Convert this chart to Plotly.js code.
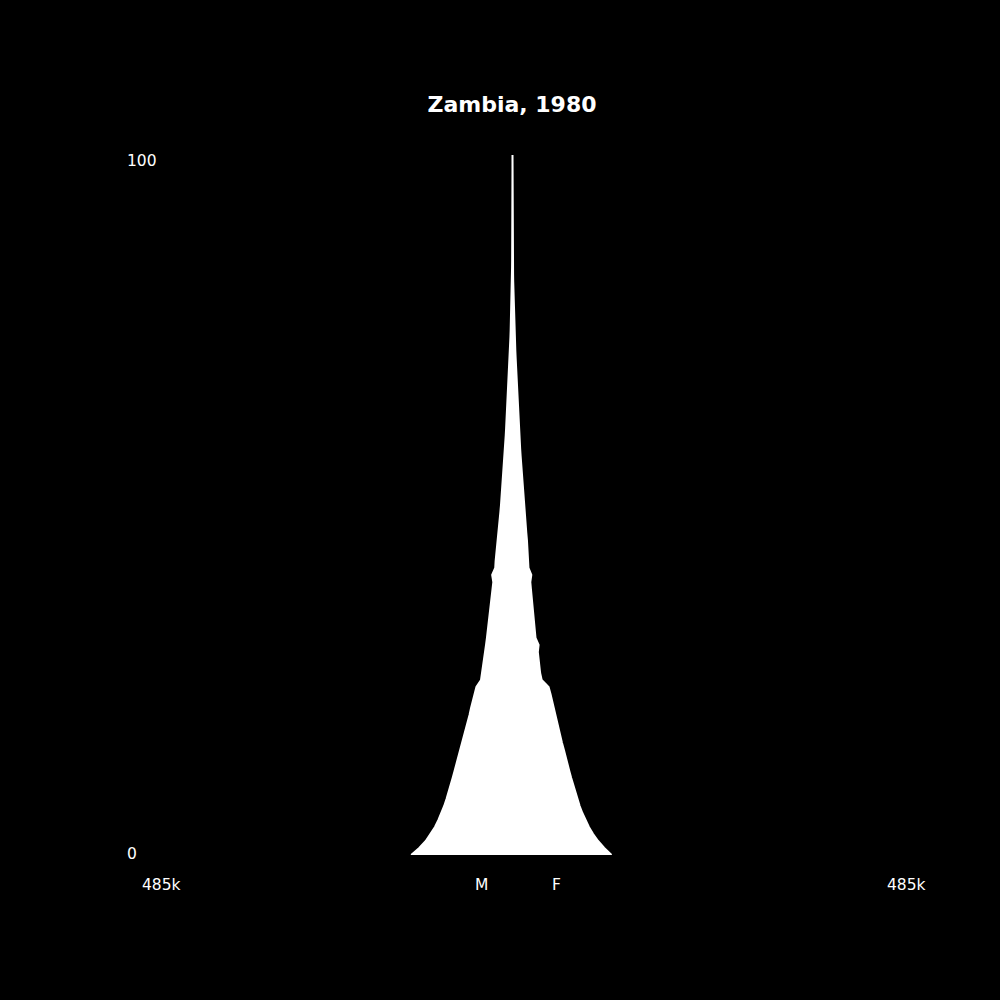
<!DOCTYPE html>
<html>
<head>
<meta charset="utf-8">
<script src="https://cdn.plot.ly/plotly-3.0.1.min.js"></script>
<style>html,body{margin:0;padding:0;background:#000;}</style>
</head>
<body>
<div id="chart" style="width:1000px;height:1000px;"></div>
<script>
// Age (years), single-year groups 0..100
const ages = [0,1,2,3,4,5,6,7,8,9,10,11,12,13,14,15,16,17,18,19,20,21,22,23,24,25,26,27,28,29,30,31,32,33,34,35,36,37,38,39,40,41,42,43,44,45,46,47,48,49,50,51,52,53,54,55,56,57,58,59,60,61,62,63,64,65,66,67,68,69,70,71,72,73,74,75,76,77,78,79,80,81,82,83,84,85,86,87,88,89,90,91,92,93,94,95,96,97,98,99,100];

// Population in thousands
const male = [132,121.5,113,106.5,101,96.5,92.5,89,86,83,80.5,78,75.5,73,70.5,68,65.5,63.5,61,58.5,56,54,52,49.5,47,41,39.5,38,36.5,35.5,34.5,33.3,32.2,31,30,29,28,27,26,25,26.5,22.5,22,21,20,19.3,18.5,17.5,16.7,15.8,15,14.3,13.6,13,12.3,11.7,11,10.4,9.9,9.3,8.8,8.3,7.8,7.3,6.8,6.3,5.8,5.4,5,4.6,4.2,3.8,3.4,3.0,2.7,2.4,2.1,1.8,1.6,1.4,1.2,1.0,0.85,0.7,0.55,0.45,0.35,0.28,0.22,0.17,0.13,0.1,0.07,0.05,0.04,0.03,0.02,0.015,0.01,0.007,0.005];

const female = [129,119.5,111.5,105,99.5,95,91,87.5,84.5,81.5,79,76.5,74,71.5,69,67,64.5,62.5,60.5,58,56,53.5,51.5,49.5,47,38,36,35,34,33,34,30,29,28,27,26.3,25.5,24.8,24,23.2,24.5,20.8,20.3,19.8,19.3,18.8,18,17.3,16.6,15.9,15.2,14.5,13.8,13.1,12.5,11.9,11.2,10.6,10,9.5,9,8.5,8,7.5,7,6.5,6.1,5.7,5.3,4.9,4.5,4.1,3.7,3.3,2.9,2.6,2.3,2.0,1.7,1.5,1.3,1.1,0.9,0.75,0.6,0.5,0.4,0.3,0.24,0.18,0.14,0.1,0.07,0.05,0.04,0.03,0.02,0.015,0.01,0.007,0.005];

const title = 'Zambia, 1980';
const maxLabel = '485k';
const maxValue = 485000;
const sexLabels = ['M', 'F'];
const sexLabelPos = [-51500, 48700];
const ageLabels = ['100', '0'];
const ageLabelPos = [99.15, 0.15];

const fontFam = 'DejaVu Sans, sans-serif';
const tickFont = {family: fontFam, size: 15.5, color: '#ffffff'};

// One closed outline: males (left, negative) going up, females (right) coming down
const outlineX = male.map(v => -v * 1000).concat(female.slice().reverse().map(v => v * 1000));
const outlineY = ages.concat(ages.slice().reverse());

const traces = [
  {
    x: outlineX, y: outlineY,
    type: 'scatter', mode: 'lines', fill: 'toself',
    fillcolor: '#ffffff', line: {color: '#ffffff', width: 2},
    hoverinfo: 'skip'
  }
];

const annotations = [
  {text: maxLabel, x: -maxValue, xref: 'x', xanchor: 'left', y: -30/700, yref: 'paper', yanchor: 'middle', showarrow: false, font: tickFont},
  {text: maxLabel, x: maxValue, xref: 'x', xanchor: 'left', y: -30/700, yref: 'paper', yanchor: 'middle', showarrow: false, font: tickFont},
  {text: sexLabels[0], x: sexLabelPos[0], xref: 'x', xanchor: 'left', y: -30/700, yref: 'paper', yanchor: 'middle', showarrow: false, font: tickFont},
  {text: sexLabels[1], x: sexLabelPos[1], xref: 'x', xanchor: 'left', y: -30/700, yref: 'paper', yanchor: 'middle', showarrow: false, font: tickFont},
  {text: ageLabels[0], x: 0, xref: 'paper', xanchor: 'left', y: ageLabelPos[0], yref: 'y', yanchor: 'middle', showarrow: false, font: tickFont},
  {text: ageLabels[1], x: 0, xref: 'paper', xanchor: 'left', y: ageLabelPos[1], yref: 'y', yanchor: 'middle', showarrow: false, font: tickFont}
];

const layout = {
  width: 1000, height: 1000,
  paper_bgcolor: '#000000', plot_bgcolor: '#000000',
  margin: {l: 125, r: 100, t: 155, b: 145},
  showlegend: false,
  title: {
    text: title, x: 0.512, xref: 'container', xanchor: 'center',
    y: 0.896, yref: 'container', yanchor: 'middle',
    font: {family: fontFam, size: 22, color: '#ffffff', weight: 'bold'}
  },
  xaxis: {range: [-505000, 505000], visible: false, fixedrange: true},
  yaxis: {range: [0, 100], visible: false, fixedrange: true},
  annotations: annotations
};

Plotly.newPlot('chart', traces, layout, {displayModeBar: false, staticPlot: true});
</script>
</body>
</html>
